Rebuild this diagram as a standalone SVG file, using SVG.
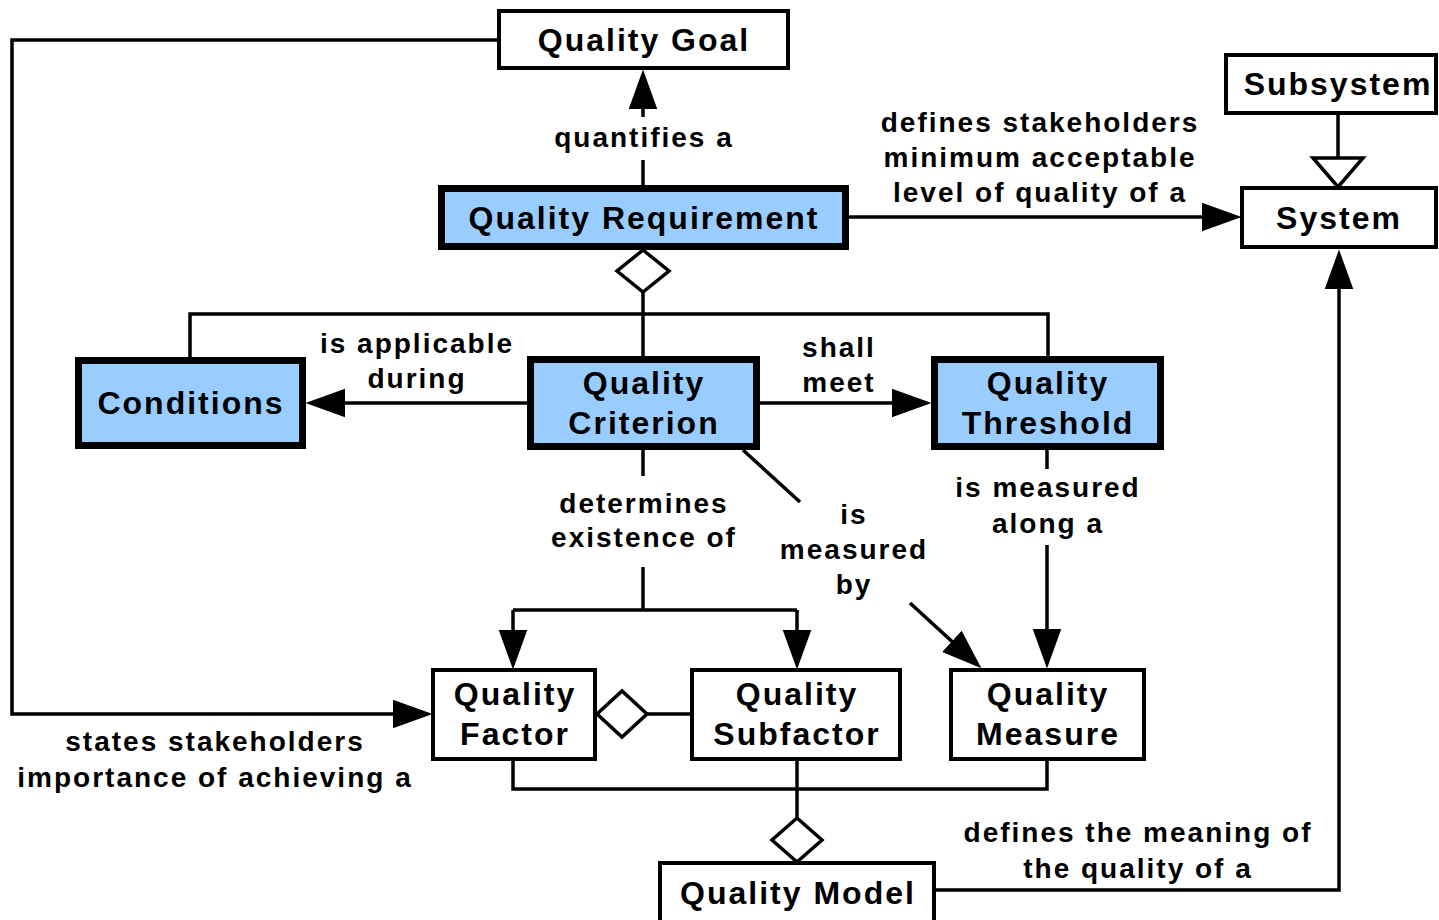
<svg xmlns="http://www.w3.org/2000/svg" width="1439" height="920" viewBox="0 0 1439 920">
<style>
.bg{fill:#ffffff}
.box{fill:#ffffff;stroke:#000;stroke-width:4}
.hbox{fill:#99CCFF;stroke:#000;stroke-width:7}
.nt{font-family:"Liberation Sans",Arial,Helvetica,sans-serif;font-weight:bold;font-size:32px;letter-spacing:2px;text-anchor:middle;fill:#000}
.lt{font-family:"Liberation Sans",Arial,Helvetica,sans-serif;font-weight:bold;font-size:28px;letter-spacing:2px;text-anchor:middle;fill:#000}
.ln{fill:none;stroke:#000;stroke-width:3.5}
.arr{fill:none;stroke:#000;stroke-width:3.5;marker-end:url(#ah)}
.dia{fill:#ffffff;stroke:#000;stroke-width:3.5}
</style>
<defs>
<marker id="ah" markerUnits="userSpaceOnUse" markerWidth="40" markerHeight="30" viewBox="0 0 36 26" refX="31" refY="13" orient="auto">
<path d="M0,0 L36,13 L0,26 Z" fill="#000"/>
</marker>
</defs>
<rect class="bg" x="0" y="0" width="1439" height="920"/>
<g id="connectors">
<path class="ln" d="M643,185 V160"/>
<path class="arr" d="M643,117 V75"/>
<path class="arr" d="M849,217 H1236"/>
<path class="ln" d="M1338,115 V158"/>
<polygon class="dia" points="1313,158 1363,158 1338,187"/>
<polygon class="dia" points="643,250 669,271 643,292 617,271"/>
<path class="ln" d="M643,292 V357"/>
<path class="ln" d="M190,358 V314 H1048 V358"/>
<path class="arr" d="M527,403 H311"/>
<path class="arr" d="M760,403 H926"/>
<path class="ln" d="M643,450 V476"/>
<path class="ln" d="M643,567 V610"/>
<path class="ln" d="M513,610 H797"/>
<path class="arr" d="M513,610 V664"/>
<path class="arr" d="M797,610 V664"/>
<path class="ln" d="M743,450 L800,502"/>
<path class="arr" d="M910,603 L977.3,664.6"/>
<path class="ln" d="M1047,450 V469"/>
<path class="arr" d="M1047,545 V663"/>
<path class="arr" d="M497,40 H12 V714 H427"/>
<polygon class="dia" points="597,714 622,691 647,714 622,737"/>
<path class="ln" d="M647,714 H691"/>
<path class="ln" d="M513,761 V789 H1047 V761"/>
<path class="ln" d="M797,761 V818"/>
<polygon class="dia" points="797,818 822,840 797,862 772,840"/>
<path class="arr" d="M935,890 H1339 V255"/>
<text class="lt" x="644" y="147">quantifies a</text>
<text class="lt" x="1040" y="132">defines stakeholders</text>
<text class="lt" x="1040" y="167">minimum acceptable</text>
<text class="lt" x="1040" y="202">level of quality of a</text>
<text class="lt" x="417" y="353">is applicable</text>
<text class="lt" x="417" y="388">during</text>
<text class="lt" x="839" y="357">shall</text>
<text class="lt" x="839" y="392">meet</text>
<text class="lt" x="644" y="513">determines</text>
<text class="lt" x="644" y="547">existence of</text>
<text class="lt" x="854" y="524">is</text>
<text class="lt" x="854" y="559">measured</text>
<text class="lt" x="854" y="594">by</text>
<text class="lt" x="1048" y="497">is measured</text>
<text class="lt" x="1048" y="533">along a</text>
<text class="lt" x="215" y="751">states stakeholders</text>
<text class="lt" x="215" y="787">importance of achieving a</text>
<text class="lt" x="1138" y="842">defines the meaning of</text>
<text class="lt" x="1138" y="878">the quality of a</text>
</g>
<g id="quality-goal">
<rect class="box" x="499" y="11" width="289" height="57"/>
<text class="nt" x="644" y="51">Quality Goal</text>
</g>
<g id="quality-requirement">
<rect class="hbox" x="441.5" y="188.5" width="404" height="58"/>
<text class="nt" x="644" y="229">Quality Requirement</text>
</g>
<g id="subsystem">
<rect class="box" x="1226" y="55" width="210" height="58"/>
<text class="nt" x="1338" y="95">Subsystem</text>
</g>
<g id="system">
<rect class="box" x="1242" y="188" width="194" height="59"/>
<text class="nt" x="1339" y="229">System</text>
</g>
<g id="conditions">
<rect class="hbox" x="78.5" y="360.5" width="224" height="85"/>
<text class="nt" x="191" y="414">Conditions</text>
</g>
<g id="quality-criterion">
<rect class="hbox" x="530.5" y="359.5" width="226" height="87"/>
<text class="nt" x="644" y="394">Quality</text>
<text class="nt" x="644" y="434">Criterion</text>
</g>
<g id="quality-threshold">
<rect class="hbox" x="934.5" y="359.5" width="226" height="87"/>
<text class="nt" x="1048" y="394">Quality</text>
<text class="nt" x="1048" y="434">Threshold</text>
</g>
<g id="quality-factor">
<rect class="box" x="433" y="670" width="162" height="89"/>
<text class="nt" x="515" y="705">Quality</text>
<text class="nt" x="515" y="745">Factor</text>
</g>
<g id="quality-subfactor">
<rect class="box" x="692" y="670" width="208" height="89"/>
<text class="nt" x="797" y="705">Quality</text>
<text class="nt" x="797" y="745">Subfactor</text>
</g>
<g id="quality-measure">
<rect class="box" x="951" y="670" width="193" height="89"/>
<text class="nt" x="1048" y="705">Quality</text>
<text class="nt" x="1048" y="745">Measure</text>
</g>
<g id="quality-model">
<rect class="box" x="660" y="863" width="274" height="80"/>
<text class="nt" x="798" y="904">Quality Model</text>
</g>
</svg>
